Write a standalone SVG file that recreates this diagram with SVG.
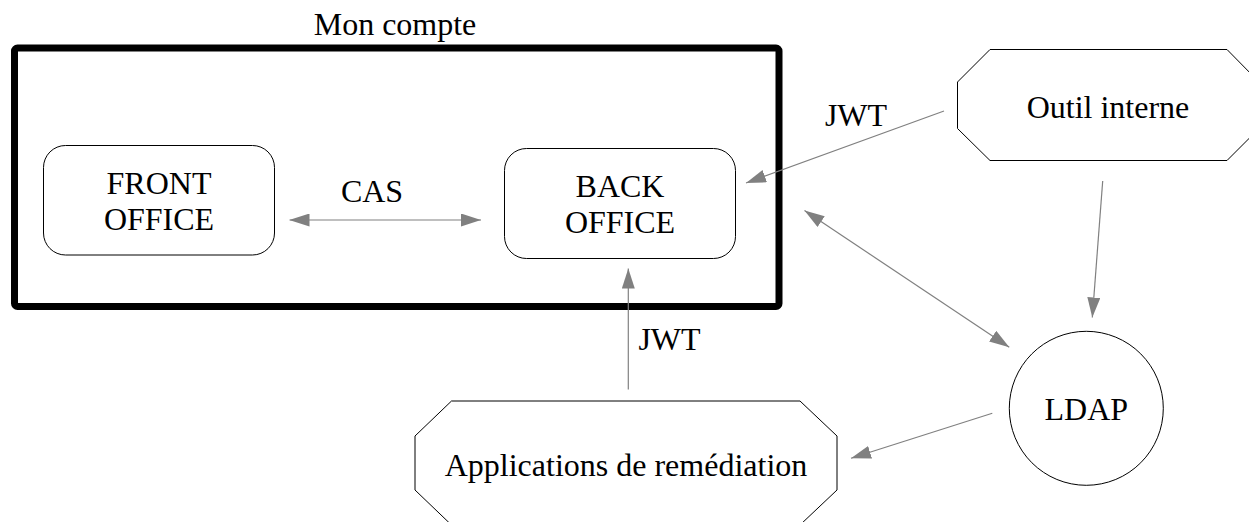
<svg xmlns="http://www.w3.org/2000/svg" width="1249" height="522" viewBox="0 0 1249 522">
<style>
text{font-family:"Liberation Serif","Times New Roman",serif;font-size:32px;fill:#000;text-anchor:middle}
.node{fill:#fff;stroke:#000;stroke-width:1}
.edge{stroke:#808080;stroke-width:1.2;fill:none}
</style>
<defs>
<marker id="ah" markerUnits="userSpaceOnUse" viewBox="0 0 20 13" refX="20" refY="6.5" markerWidth="20" markerHeight="13" orient="auto-start-reverse">
<path d="M0,0 L20,6.5 L0,13 z" fill="#808080"/>
</marker>
</defs>
<rect width="1249" height="522" fill="#fff"/>
<g id="mon-compte">
<rect x="14.5" y="48" width="764.5" height="258.5" rx="3" fill="none" stroke="#000" stroke-width="7"/>
<text x="395" y="35">Mon compte</text>
</g>
<g id="front-office">
<rect class="node" x="43.5" y="145.5" width="231" height="109.5" rx="22"/>
<text x="159" y="193.5">FRONT</text>
<text x="159" y="230">OFFICE</text>
</g>
<g id="back-office">
<rect class="node" x="504.5" y="148.5" width="231" height="110" rx="22"/>
<text x="620" y="196.5">BACK</text>
<text x="620" y="232.5">OFFICE</text>
</g>
<g id="outil-interne">
<polygon class="node" points="990,49.5 1227,49.5 1259,82 1259,128.5 1227,160.5 990,160.5 957.5,128.5 957.5,82"/>
<text x="1108" y="117.5">Outil interne</text>
</g>
<g id="ldap">
<circle class="node" cx="1086.3" cy="408.3" r="77"/>
<text x="1086.3" y="420">LDAP</text>
</g>
<g id="applications">
<polygon class="node" points="451.5,401 800,401 837,436 837,490 800,525 451.5,525 415,490 415,436"/>
<text x="626" y="476">Applications de remédiation</text>
</g>
<g id="connectors">
<line class="edge" x1="289.5" y1="220" x2="481" y2="220" marker-start="url(#ah)" marker-end="url(#ah)"/>
<text x="372" y="201.5">CAS</text>
<line class="edge" x1="944" y1="111" x2="746" y2="183" marker-end="url(#ah)"/>
<text x="856" y="126">JWT</text>
<line class="edge" x1="628.3" y1="389.5" x2="628.3" y2="268.5" marker-end="url(#ah)"/>
<text x="669.5" y="350">JWT</text>
<line class="edge" x1="1102.7" y1="181" x2="1092.3" y2="317.5" marker-end="url(#ah)"/>
<line class="edge" x1="804.5" y1="210.5" x2="1009.3" y2="347.3" marker-start="url(#ah)" marker-end="url(#ah)"/>
<line class="edge" x1="992.3" y1="413.3" x2="851" y2="458.3" marker-end="url(#ah)"/>
</g>
</svg>
